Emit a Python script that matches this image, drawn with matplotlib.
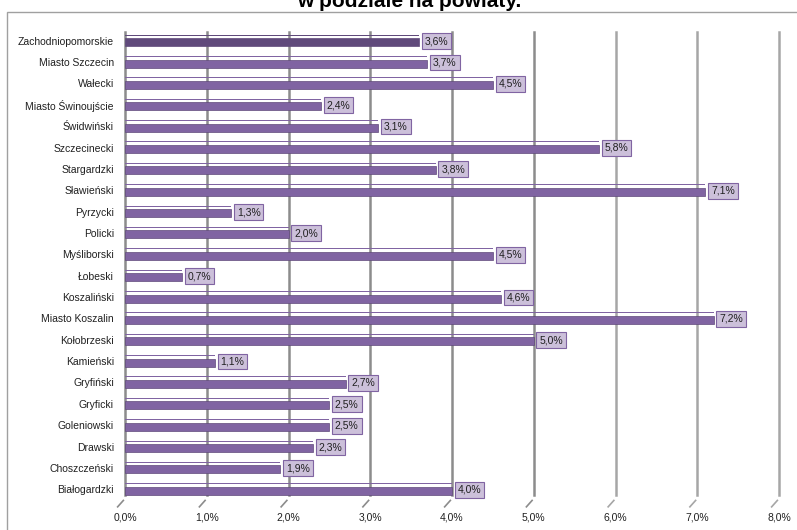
import matplotlib.pyplot as plt
import matplotlib.patches as patches
import numpy as np

plt.rcParams['font.family'] = ['Liberation Sans', 'DejaVu Sans']

# Data (top to bottom as in the chart)
powiaty = ['Zachodniopomorskie', 'Miasto Szczecin', 'Wałecki', 'Miasto Świnoujście',
           'Świdwiński', 'Szczecinecki', 'Stargardzki', 'Sławieński', 'Pyrzycki',
           'Policki', 'Myśliborski', 'Łobeski', 'Koszaliński', 'Miasto Koszalin',
           'Kołobrzeski', 'Kamieński', 'Gryfiński', 'Gryficki', 'Goleniowski',
           'Drawski', 'Choszczeński', 'Białogardzki']
udzial = [3.6, 3.7, 4.5, 2.4, 3.1, 5.8, 3.8, 7.1, 1.3, 2.0, 4.5, 0.7, 4.6, 7.2,
          5.0, 1.1, 2.7, 2.5, 2.5, 2.3, 1.9, 4.0]
xticks = [0, 1, 2, 3, 4, 5, 6, 7, 8]
xtick_labels = ['0,0%', '1,0%', '2,0%', '3,0%', '4,0%', '5,0%', '6,0%', '7,0%', '8,0%']

fig = plt.figure(figsize=(7.97, 5.30), dpi=100)
ax = fig.add_axes([125 / 797, 1 - 500 / 530, (779 - 125) / 797, 470 / 530])

# outer chart border
fig.patches.append(patches.Rectangle((7 / 797, -0.01), 1.0, 1 - 12 / 530 + 0.01,
                                     transform=fig.transFigure, fill=False,
                                     edgecolor='#a0a0a0', linewidth=1.0))

# cut-off title (only its lower part is visible in the source image)
fig.text(0.513, 1 - 7 / 530, 'w podziale na powiaty.', ha='center', va='baseline',
         fontsize=15, fontweight='bold', color='black')

y = np.arange(len(powiaty))
colors = ['#604a7b'] + ['#8064a2'] * (len(powiaty) - 1)
n = len(powiaty)

# gridlines with small 3D foot
for t in xticks:
    gcol = '#8c8c8c' if t <= 5 else '#a6a6a6'
    ax.axvline(t, ymin=0.01, ymax=0.995, color=gcol, linewidth=1.8, zorder=1,
               clip_on=False)
    ax.plot([t - 0.02, t - 0.09], [n - 0.48, n - 0.18], color=gcol,
            linewidth=1.2, clip_on=False, zorder=1)

# bars: thin top face + body
ax.barh(y - 0.26, udzial, height=0.05, color=colors, linewidth=0, zorder=3)
ax.barh(y + 0.07, udzial, height=0.375, color=colors, edgecolor='#5f497a',
        linewidth=0.5, zorder=3)

for yi, v in zip(y, udzial):
    ax.annotate(f'{v:.1f}%'.replace('.', ','), xy=(v, yi + 0.02), xytext=(4, 0),
                textcoords='offset points', ha='left', va='center', fontsize=7.5,
                color='#202020', zorder=4,
                bbox=dict(boxstyle='square,pad=0.28', facecolor='#ccc0da',
                          edgecolor='#8064a2', linewidth=0.8))

ax.set_xlim(0, 8)
ax.set_ylim(n - 0.5, -0.5)
ax.set_xticks(xticks)
ax.set_xticklabels(xtick_labels, fontsize=7.5, color='#202020')
ax.set_yticks(y)
ax.set_yticklabels(powiaty, fontsize=7.5, color='#202020')
ax.tick_params(axis='x', length=0, pad=9)
ax.tick_params(axis='y', length=0, pad=8)
for s in ax.spines.values():
    s.set_visible(False)

fig.savefig('out.png', dpi=100)
